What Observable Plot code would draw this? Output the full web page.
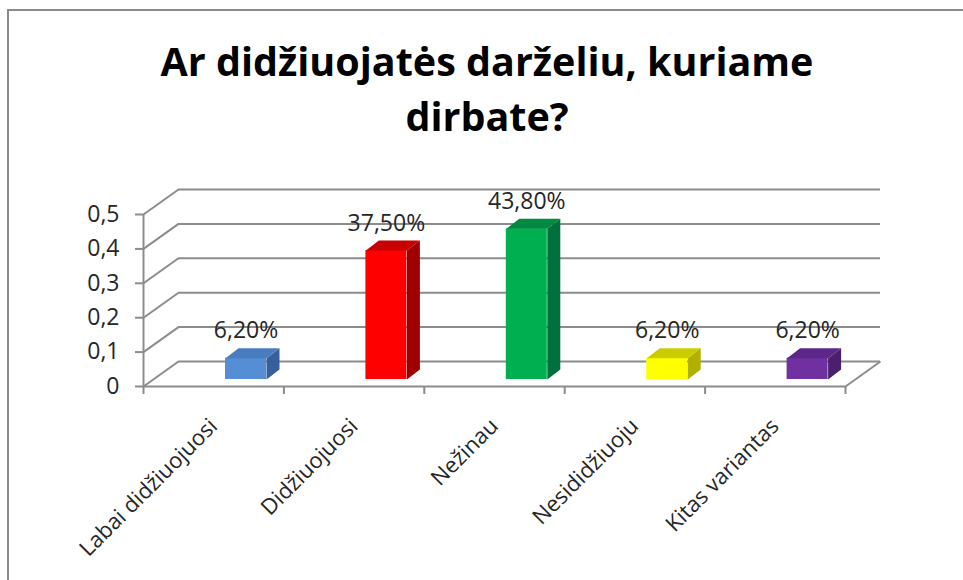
<!DOCTYPE html>
<html>
<head>
<meta charset="utf-8">
<script src="https://cdn.jsdelivr.net/npm/d3@7"></script>
<script src="https://cdn.jsdelivr.net/npm/@observablehq/plot@0.6"></script>
<style>
  html, body { margin: 0; padding: 0; background: #fff; }
  #wrap { position: relative; width: 963px; height: 580px; overflow: hidden; background: #fff; }
  #frame { position: absolute; left: 7px; top: 9px; width: 2000px; height: 2000px;
           border-left: 2px solid #8a8a8a; border-top: 2px solid #8a8a8a; box-sizing: border-box; }
  #title { position: absolute; left: 0; top: 34px; width: 974px; text-align: center;
           font-family: "Open Sans", Lato, sans-serif; font-weight: 700; font-size: 39.5px;
           line-height: 55px; color: #000; }
  #chart { position: absolute; left: 0; top: 0; }
</style>
</head>
<body>
<div id="wrap">
  <div id="frame"></div>
  <div id="chart"></div>
  <div id="title">Ar didžiuojatės darželiu, kuriame<br>dirbate?</div>
</div>
<script>
// ---- data ----
const categories = ["Labai didžiuojuosi", "Didžiuojuosi", "Nežinau", "Nesididžiuoju", "Kitas variantas"];
const values = [0.062, 0.375, 0.438, 0.062, 0.062];
const valueLabels = ["6,20%", "37,50%", "43,80%", "6,20%", "6,20%"];
const frontColors = ["#558ed5", "#ff0000", "#00b050", "#ffff00", "#7030a0"];
const sideColors  = ["#37609a", "#a00000", "#00703c", "#b0b000", "#4b1f6e"];
const topColors   = ["#4a7cc0", "#c80000", "#008a42", "#cccc00", "#5c2788"];
const yTicks = [0, 0.1, 0.2, 0.3, 0.4, 0.5];
const yTickLabels = ["0", "0,1", "0,2", "0,3", "0,4", "0,5"];

// ---- layout ----
const W = 963, H = 580;
const mL = 143, mR = 118, mT = 214, mB = 194;
const pxX = (W - mL - mR) / categories.length;   // px per category
const pxY = (H - mT - mB) / 0.5;                 // px per unit
const wallDX = 35 / pxX, wallDY = 25 / pxY;      // 3D wall depth in data units
const barDX = 13 / pxX, barDY = 10 / pxY;        // bar depth
const barL = 82 / pxX, barR = 123 / pxX;         // bar front face within band
const barLift = -7;                              // bar base sits behind front edge
const font = "'Open Sans', Lato, sans-serif";

const bars = categories.map((c, i) => ({
  i, c, v: values[i], label: valueLabels[i],
  x1: i + barL, x2: i + barR,
  front: frontColors[i], side: sideColors[i], top: topColors[i]
}));

const sideFaces = bars.flatMap(b => [
  {z: b.i, x: b.x2, y: 0, fill: b.side},
  {z: b.i, x: b.x2 + barDX, y: barDY, fill: b.side},
  {z: b.i, x: b.x2 + barDX, y: b.v + barDY, fill: b.side},
  {z: b.i, x: b.x2, y: b.v, fill: b.side}
]);
const topFaces = bars.flatMap(b => [
  {z: b.i, x: b.x1, y: b.v, fill: b.top},
  {z: b.i, x: b.x2, y: b.v, fill: b.top},
  {z: b.i, x: b.x2 + barDX, y: b.v + barDY, fill: b.top},
  {z: b.i, x: b.x1 + barDX, y: b.v + barDY, fill: b.top}
]);

const gridColor = "#8c8c8c";
const gridW = 2;
const n = categories.length;

const chart = Plot.plot({
  width: W, height: H,
  marginLeft: mL, marginRight: mR, marginTop: mT, marginBottom: mB,
  x: {domain: [0, n], axis: null},
  y: {domain: [0, 0.5], axis: null},
  color: {type: "identity"},
  style: {fontFamily: font, background: "transparent", overflow: "visible"},
  marks: [
    // left wall diagonals
    Plot.link(yTicks, {x1: 0, y1: d => d, x2: wallDX, y2: d => d + wallDY, stroke: gridColor, strokeWidth: gridW}),
    // back wall gridlines
    Plot.ruleY(yTicks, {x1: wallDX, x2: n + wallDX, y: d => d + wallDY, stroke: gridColor, strokeWidth: gridW}),
    // floor right edge
    Plot.link([n], {x1: d => d, y1: 0, x2: d => d + wallDX, y2: wallDY, stroke: gridColor, strokeWidth: gridW}),
    // floor front edge
    Plot.ruleY([0], {x1: 0, x2: n, stroke: gridColor, strokeWidth: gridW}),
    // front y axis
    Plot.ruleX([0], {y1: 0, y2: 0.5, stroke: gridColor, strokeWidth: gridW}),
    // y ticks
    Plot.ruleY(yTicks, {x1: -8 / pxX, x2: 0, stroke: gridColor, strokeWidth: gridW}),
    // x ticks
    Plot.ruleX(d3.range(n + 1), {y1: 0, y2: -8 / pxY, stroke: gridColor, strokeWidth: gridW}),
    // bars: front, side, top
    Plot.rect(bars, {x1: "x1", x2: "x2", y1: 0, y2: "v", fill: "front", dy: barLift}),
    Plot.line(sideFaces, {x: "x", y: "y", z: "z", fill: "fill", stroke: null, curve: "linear-closed", dy: barLift}),
    Plot.line(topFaces, {x: "x", y: "y", z: "z", fill: "fill", stroke: null, curve: "linear-closed", dy: barLift}),
    // value labels
    Plot.text(bars, {x: d => (d.x1 + d.x2) / 2, y: "v", text: "label", lineAnchor: "bottom", dy: barLift - 20,
                     fontSize: 23, fill: "#262626"}),
    // y tick labels
    Plot.text(yTicks, {x: 0, y: d => d, text: (d, i) => yTickLabels[i], textAnchor: "end", dx: -24,
                       fontSize: 23, fill: "#262626"}),
    // category labels
    Plot.text(categories, {x: (d, i) => i + 0.5, y: 0, text: d => d, rotate: -45, textAnchor: "end",
                           dx: 0, dy: 36, fontSize: 22, fill: "#262626"})
  ]
});
document.getElementById("chart").appendChild(chart);
</script>
</body>
</html>
